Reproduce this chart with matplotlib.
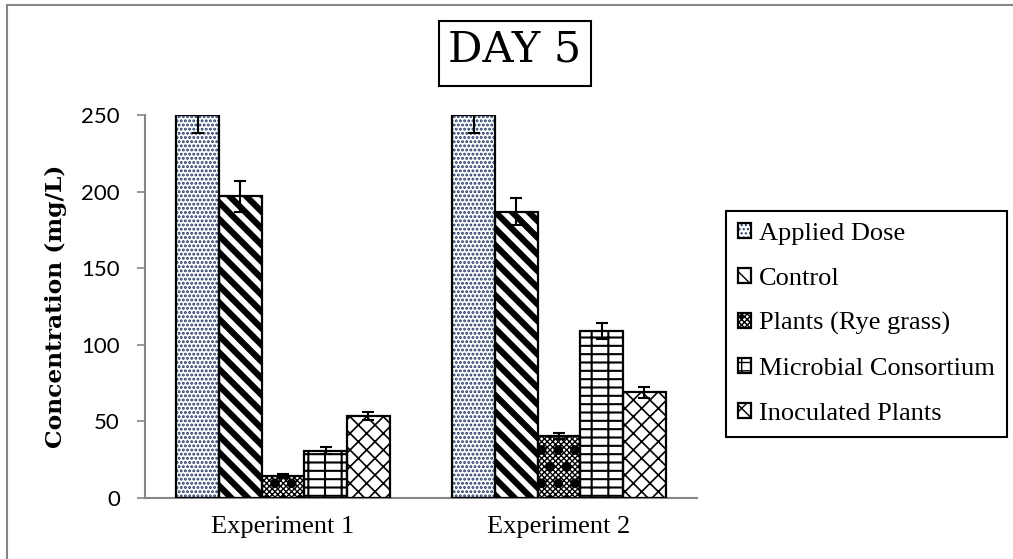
import matplotlib
matplotlib.use("Agg")
import matplotlib.pyplot as plt
import numpy as np
from matplotlib.patches import Rectangle
from matplotlib.legend_handler import HandlerTuple

experiments = ["Experiment 1", "Experiment 2"]
treatments = ["Applied Dose", "Control", "Plants (Rye grass)",
              "Microbial Consortium", "Inoculated Plants"]
yticks = [0, 50, 100, 150, 200, 250]
means = [
    [250, 250],      # Applied Dose
    [197, 187],      # Control
    [14.5, 40.5],    # Plants (Rye grass)
    [31, 109],       # Microbial Consortium
    [53.5, 69],      # Inoculated Plants
]
errors = [
    [12, 12],
    [10, 9],
    [1.2, 2],
    [2, 5.5],
    [2.7, 3.7],
]

# hatch layers per treatment: (hatch, hatch colour, hatch linewidth)
layers = [
    [("....", "#1f3864", 1.4)],
    [("\\\\", "black", 4.5)],
    [("xxxxxx", "black", 1.0), (".", "black", 4.5)],
    [("--|", "black", 1.5)],
    [("xx", "black", 1.2)],
]

W, H = 1013, 559
fig = plt.figure(figsize=(W / 100, H / 100), dpi=100)
ax = fig.add_axes([145 / W, 1 - 498 / H, 552 / W, 383 / H])

x = np.arange(len(experiments))
width = 0.772 / len(treatments)
handles = []
for i, name in enumerate(treatments):
    pos = x + (i - 2) * width
    parts = []
    for hatch, hc, hlw in layers[i]:
        with plt.rc_context({"hatch.linewidth": hlw}):
            bars = ax.bar(pos, means[i], width, facecolor="none", edgecolor=hc,
                          linewidth=0, hatch=hatch, zorder=2)
        for b in bars:
            if hasattr(b, "set_hatch_linewidth"):
                b.set_hatch_linewidth(hlw)
        parts.append(bars[0])
    outline = ax.bar(pos, means[i], width, facecolor="none", edgecolor="black",
                     linewidth=1.6, zorder=3)
    parts.append(outline[0])
    ax.errorbar(pos, means[i], yerr=errors[i], fmt="none", ecolor="black",
                elinewidth=1.5, capsize=4.3, capthick=1.5, zorder=4)
    handles.append(tuple(parts))

ax.set_xlim(-0.5, 1.5)
ax.set_ylim(0, 250)
ax.set_yticks(yticks)
ax.set_yticklabels([str(v) for v in yticks], fontfamily="Lato", fontsize=16)
ax.set_xticks(x)
ax.set_xticklabels(experiments, fontfamily="Liberation Serif", fontsize=19)
ax.tick_params(axis="x", length=0, pad=13)
ax.tick_params(axis="y", length=6, width=1.2, color="#868686", pad=12)
for s in ["top", "right"]:
    ax.spines[s].set_visible(False)
for s in ["left", "bottom"]:
    ax.spines[s].set_color("#868686")
    ax.spines[s].set_linewidth(1.5)

ax.set_ylabel("Concentration (mg/L)", fontfamily="DejaVu Serif",
              fontweight="bold", fontsize=16.8, labelpad=10)

# title in a box
fig.text(515 / W, 1 - 49 / H, "DAY 5", fontfamily="DejaVu Serif", fontsize=31,
         ha="center", va="center")
fig.add_artist(Rectangle((439 / W, 1 - 86 / H), 152 / W, 65 / H,
                         transform=fig.transFigure, fill=False,
                         edgecolor="black", linewidth=1.5))

# outer frame
fig.add_artist(Rectangle((7 / W, -0.1), 1.2, 1.1 - 5 / H,
                         transform=fig.transFigure, fill=False,
                         edgecolor="#868686", linewidth=1.5, clip_on=False))

leg = fig.legend(handles, treatments, loc="upper left",
                 bbox_to_anchor=(726 / W, 1 - 211 / H),
                 bbox_transform=fig.transFigure, borderaxespad=0,
                 prop={"family": "Liberation Serif", "size": 19},
                 handler_map={tuple: HandlerTuple(ndivide=1, pad=0)},
                 handlelength=0.5, handleheight=0.5, handletextpad=0.3,
                 labelspacing=0.86, borderpad=0.45, fancybox=False,
                 edgecolor="black", framealpha=1)
leg.get_frame().set_linewidth(1.5)

fig.savefig("out.png", dpi=100)
